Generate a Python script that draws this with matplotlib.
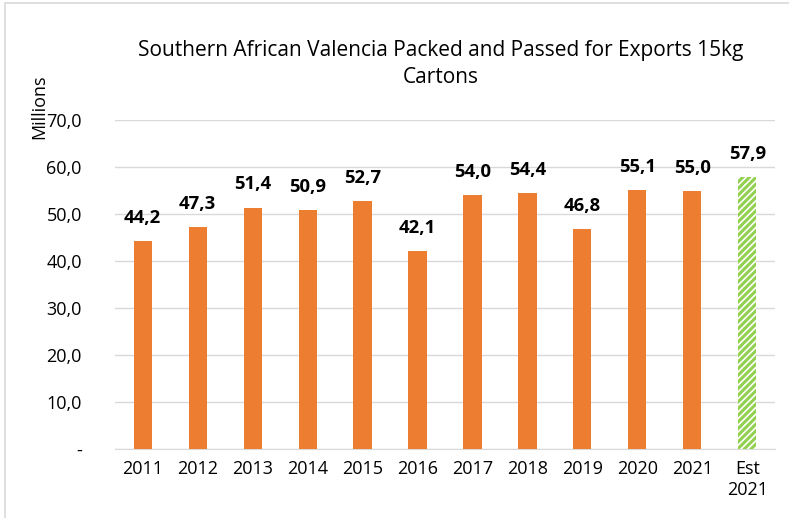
import numpy as np
import matplotlib.pyplot as plt
import matplotlib as mpl

# === Data ===
years = ["2011", "2012", "2013", "2014", "2015", "2016", "2017", "2018",
         "2019", "2020", "2021", "Est\n2021"]
cartons = [44.2, 47.3, 51.4, 50.9, 52.7, 42.1, 54.0, 54.4, 46.8, 55.1, 55.0, 57.9]
y_ticks = [0, 10, 20, 30, 40, 50, 60, 70]
y_tick_labels = ["-", "10,0", "20,0", "30,0", "40,0", "50,0", "60,0", "70,0"]

orange = "#ED7D31"
green = "#92D050"

plt.rcParams['font.family'] = ['Open Sans', 'DejaVu Sans']
mpl.rcParams['hatch.linewidth'] = 2.2

fig = plt.figure(figsize=(7.89, 5.18), dpi=100)
ax = fig.add_axes([0.146, 0.133, 0.836, 0.635])

x = np.arange(len(years))
ax.bar(x[:-1], cartons[:-1], width=0.33, color=orange, zorder=3)
ax.bar(x[-1:], cartons[-1:], width=0.33, color="white",
       edgecolor=green, hatch="/////", linewidth=0, zorder=3)

# bar value labels (comma decimal)
for xi, v in zip(x, cartons):
    ax.text(xi, v + 3.0, f"{v:.1f}".replace(".", ","), ha="center", va="bottom",
            fontsize=13.3, fontweight="bold", color="black")

ax.set_xlim(-0.5, len(years) - 0.5)
ax.set_ylim(0, 70)
ax.set_yticks(y_ticks)
ax.set_yticklabels(y_tick_labels)
ax.set_xticks(x)
ax.set_xticklabels(years)
ax.tick_params(axis="both", length=0, labelsize=13, colors="black")
ax.tick_params(axis="y", pad=24)
ax.tick_params(axis="x", pad=8)
ax.grid(axis="y", color="#D9D9D9", linewidth=1, zorder=0)
for s in ["top", "right", "left"]:
    ax.spines[s].set_visible(False)
ax.spines["bottom"].set_color("#D9D9D9")

ax.set_ylabel("Millions", fontsize=13)
ax.yaxis.set_label_coords(-0.102, 1.04)

fig.text(0.559, 0.876, "Southern African Valencia Packed and Passed for Exports 15kg\nCartons",
         ha="center", va="center", fontsize=15, linespacing=1.35)

# outer chart border
fig.patches.append(plt.Rectangle((0.006, -0.01), 1.2, 1.004, transform=fig.transFigure,
                                 fill=False, edgecolor="#D9D9D9", linewidth=1.2))

plt.savefig("out.png", dpi=100)
